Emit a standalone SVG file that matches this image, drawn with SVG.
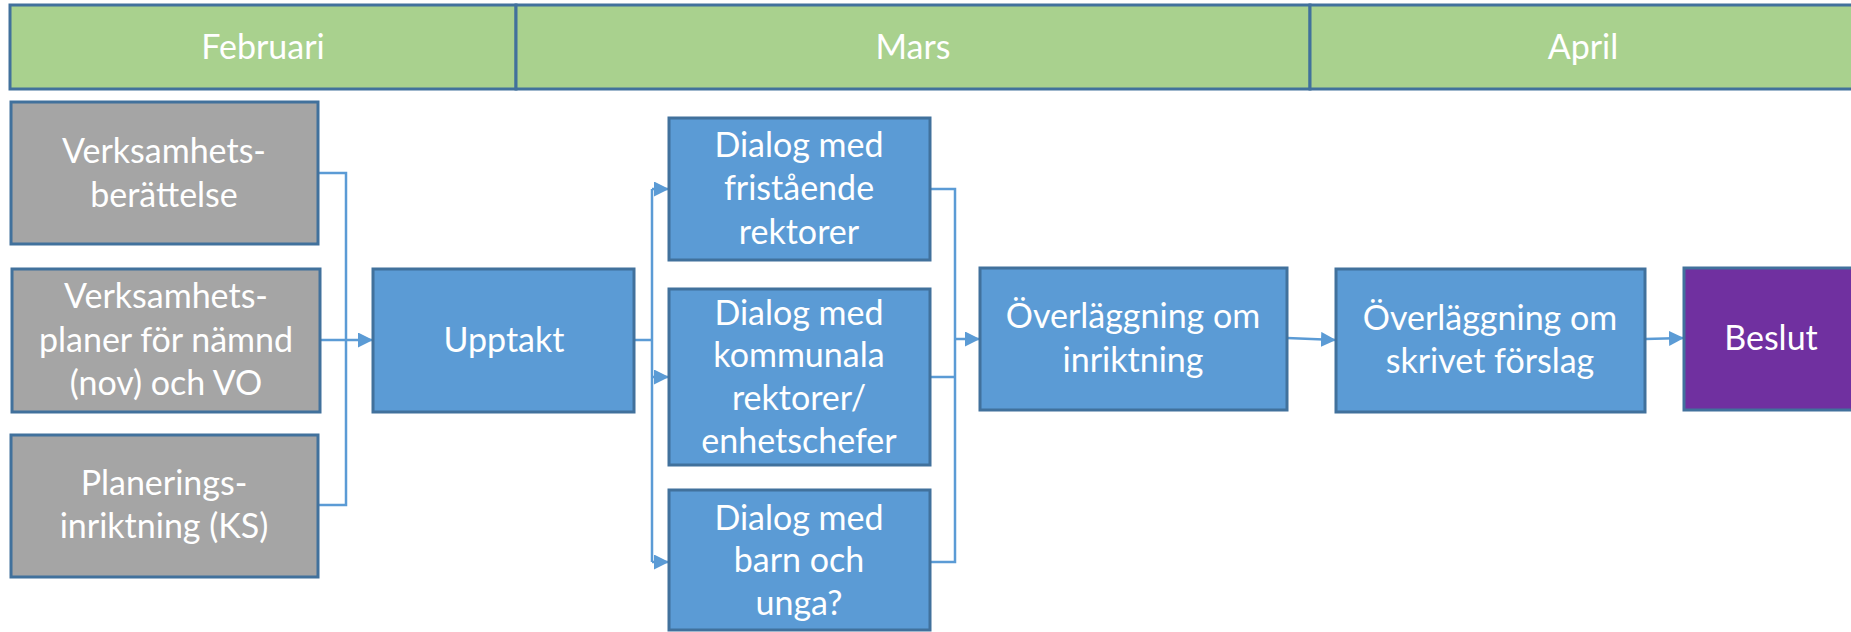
<svg xmlns="http://www.w3.org/2000/svg" width="1851" height="632" viewBox="0 0 1851 632">
<style>
.hdr{fill:#A9D18E;stroke:#41719C;stroke-width:3}
.g{fill:#A5A5A5;stroke:#41719C;stroke-width:3}
.b{fill:#5B9BD5;stroke:#41719C;stroke-width:3}
.p{fill:#7030A0;stroke:#41719C;stroke-width:3}
text{font-family:Lato,"Open Sans","Liberation Sans",sans-serif;font-size:34px;fill:#FFFFFF;text-anchor:middle}
.c{fill:none;stroke:#5B9BD5;stroke-width:2.5}
</style>
<defs>
<marker id="ah" viewBox="0 0 10 10" refX="10" refY="5" markerWidth="6" markerHeight="6" markerUnits="strokeWidth" orient="auto">
<path d="M0,0 L10,5 L0,10 z" fill="#5B9BD5"/>
</marker>
</defs>
<rect width="1851" height="632" fill="#FFFFFF"/>
<g id="header-feb"><rect class="hdr" x="10" y="5" width="506" height="84"/><text x="263" y="59">Februari</text></g>
<g id="header-mars"><rect class="hdr" x="516" y="5" width="794" height="84"/><text x="913" y="59">Mars</text></g>
<g id="header-april"><rect class="hdr" x="1310" y="5" width="550" height="84"/><text x="1583" y="59">April</text></g>

<g id="connectors">
<polyline class="c" points="318,173 346,173 346,505 318,505"/>
<line class="c" x1="320" y1="340" x2="373" y2="340" marker-end="url(#ah)"/>
<line class="c" x1="634" y1="340" x2="652" y2="340"/>
<line class="c" x1="652" y1="189" x2="652" y2="562"/>
<line class="c" x1="652" y1="189" x2="669" y2="189" marker-end="url(#ah)"/>
<line class="c" x1="652" y1="377" x2="669" y2="377" marker-end="url(#ah)"/>
<line class="c" x1="652" y1="562" x2="669" y2="562" marker-end="url(#ah)"/>
<polyline class="c" points="930,189 955,189 955,562 930,562"/>
<line class="c" x1="930" y1="377" x2="955" y2="377"/>
<line class="c" x1="955" y1="339" x2="980" y2="339" marker-end="url(#ah)"/>
<line class="c" x1="1287" y1="338" x2="1336" y2="340" marker-end="url(#ah)"/>
<line class="c" x1="1645" y1="339" x2="1684" y2="338" marker-end="url(#ah)"/>
</g>

<g id="verksamhetsberattelse"><rect class="g" x="11" y="102" width="307" height="142"/><text x="164" y="163">Verksamhets-</text><text x="164" y="207">berättelse</text></g>
<g id="verksamhetsplaner"><rect class="g" x="12" y="269" width="308" height="143"/><text x="166" y="308">Verksamhets-</text><text x="166" y="352">planer för nämnd</text><text x="166" y="395">(nov) och VO</text></g>
<g id="planeringsinriktning"><rect class="g" x="11" y="435" width="307" height="142"/><text x="164" y="495">Planerings-</text><text x="164" y="538">inriktning (KS)</text></g>
<g id="upptakt"><rect class="b" x="373" y="269" width="261" height="143"/><text x="504" y="352">Upptakt</text></g>
<g id="dialog-fristaende"><rect class="b" x="669" y="118" width="261" height="142"/><text x="799" y="157">Dialog med</text><text x="799" y="200">fristående</text><text x="799" y="244">rektorer</text></g>
<g id="dialog-kommunala"><rect class="b" x="669" y="289" width="261" height="176"/><text x="799" y="325">Dialog med</text><text x="799" y="367">kommunala</text><text x="799" y="410">rektorer/</text><text x="799" y="453">enhetschefer</text></g>
<g id="dialog-barn"><rect class="b" x="669" y="490" width="261" height="140"/><text x="799" y="530">Dialog med</text><text x="799" y="572">barn och</text><text x="799" y="615">unga?</text></g>
<g id="overlaggning-inriktning"><rect class="b" x="980" y="268" width="307" height="142"/><text x="1133" y="328">Överläggning om</text><text x="1133" y="372">inriktning</text></g>
<g id="overlaggning-forslag"><rect class="b" x="1336" y="269" width="309" height="143"/><text x="1490" y="330">Överläggning om</text><text x="1490" y="373">skrivet förslag</text></g>
<g id="beslut"><rect class="p" x="1684" y="268" width="180" height="142"/><text x="1771" y="350">Beslut</text></g>
</svg>
